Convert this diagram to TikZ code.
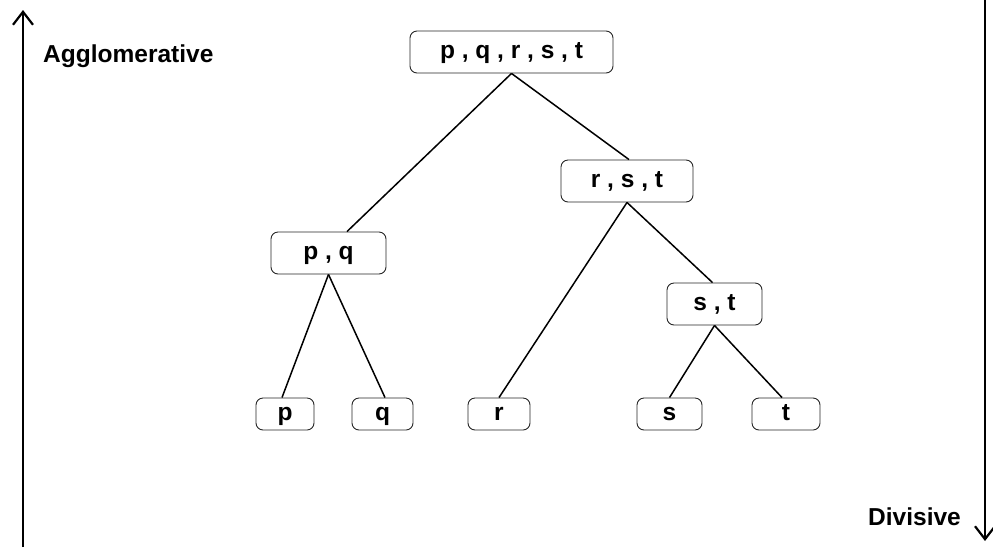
\documentclass[tikz,border=0pt]{standalone}
\usepackage{fontspec}
\setmainfont{Liberation Sans}
\usetikzlibrary{arrows.meta}
\begin{document}
\begin{tikzpicture}[x=1pt,y=-1pt,
  box/.style={draw=black!85,line width=0.9pt,rounded corners=7pt,inner sep=0pt,
    minimum height=42pt,text height=12.5pt,text depth=0pt,
    font=\fontsize{24.5}{28}\selectfont\bfseries},
  leaf/.style={box,minimum height=32pt},
  link/.style={line width=1.5pt},
  axis/.style={line width=2pt,-{Straight Barb[length=13pt,width=20pt,line width=2.2pt]}},
  lbl/.style={font=\fontsize{24.5}{28}\selectfont\bfseries,inner sep=0pt,anchor=base west}]
\useasboundingbox (0,0) rectangle (993,547);
% nodes
\node[box,minimum width=203pt] (top) at (511.5,52) {p , q , r , s , t};
\node[box,minimum width=132pt] (rst) at (627,181) {r , s , t};
\node[box,minimum width=115pt] (pq) at (328.5,253) {p , q};
\node[box,minimum width=95pt] (st) at (714.5,304) {s , t};
\node[leaf,minimum width=58pt] (p) at (285,414) {p};
\node[leaf,minimum width=61pt] (q) at (382.5,414) {q};
\node[leaf,minimum width=62pt] (r) at (499,414) {r};
\node[leaf,minimum width=65pt] (s) at (669.5,414) {s};
\node[leaf,minimum width=68pt] (t) at (786,414) {t};
% links
\draw[link] (top.south) -- ([xshift=18.5pt]pq.north);
\draw[link] (top.south) -- ([xshift=2pt]rst.north);
\draw[link] (rst.south) -- (r.north);
\draw[link] (rst.south) -- ([xshift=-2pt]st.north);
\draw[link] (pq.south) -- ([xshift=-3pt]p.north);
\draw[link] (pq.south) -- ([xshift=2.5pt]q.north);
\draw[link] (st.south) -- (s.north);
\draw[link] (st.south) -- ([xshift=-4pt]t.north);
% axes
\coordinate (aggbot) at (23,547);
\coordinate (aggtop) at (23,10);
\coordinate (divtop) at (985,0);
\coordinate (divbot) at (985,541);
\draw[axis] (aggbot) -- (aggtop);
\draw[axis] (divtop) -- (divbot);
\node[lbl] (agg) at (43,62) {Agglomerative};
\node[lbl] (div) at (868,525) {Divisive};
\end{tikzpicture}
\end{document}
